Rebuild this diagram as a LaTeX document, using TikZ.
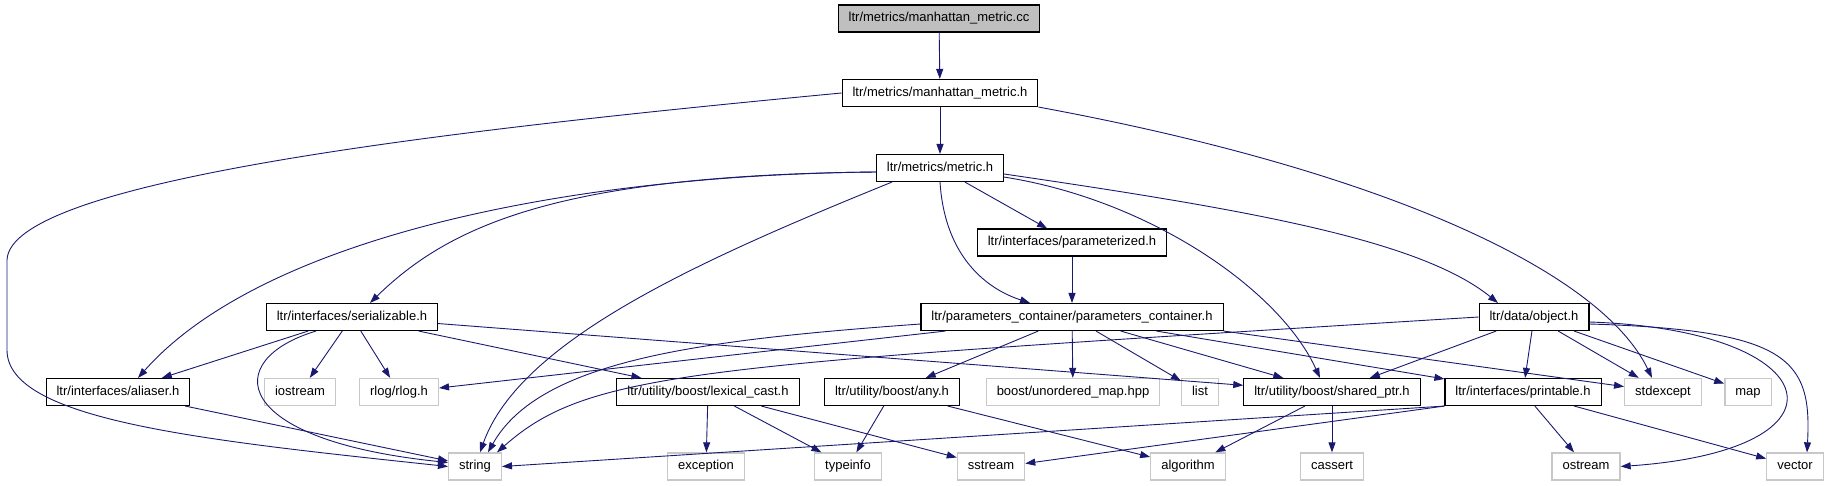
\documentclass[tikz,border=0pt]{standalone}
\usepackage{fontspec}
\setmainfont{Liberation Sans}
\usepackage{tikz}
\usetikzlibrary{arrows.meta, calc}
\definecolor{edgeblue}{RGB}{25,25,112}
\definecolor{rootgray}{RGB}{191,191,191}
\definecolor{sysgray}{RGB}{200,200,200}

\begin{document}
\begin{tikzpicture}[
    x=1pt, y=-1pt,
    box/.style={rectangle, draw=black, fill=white, line width=1.1pt, minimum height=27pt, inner xsep=10.5pt, inner ysep=0pt, text height=9.5pt, text depth=2.8pt, font=\fontsize{13}{15}\selectfont},
    rootbox/.style={box, fill=rootgray},
    sysbox/.style={box, draw=sysgray, line width=1.3pt},
    dep/.style={draw=edgeblue, line width=0.9pt, -{Triangle[length=10pt, width=7pt]}}
]
\useasboundingbox (0,0) rectangle (1829,485);

\node[rootbox] (cc) at (939,18.5) {ltr/metrics/manhattan\_metric.cc};
\node[box] (mmh) at (940,93) {ltr/metrics/manhattan\_metric.h};
\node[box] (metric) at (940,168) {ltr/metrics/metric.h};
\node[box] (parameterized) at (1072,242.5) {ltr/interfaces/parameterized.h};

\node[box] (serializable) at (352,317) {ltr/interfaces/serializable.h};
\node[box] (paramcont) at (1072,317) {ltr/parameters\_container/parameters\_container.h};
\node[box] (object) at (1534,317) {ltr/data/object.h};

\node[box] (aliaser) at (118,392) {ltr/interfaces/aliaser.h};
\node[sysbox] (iostream) at (300,392) {iostream};
\node[sysbox] (rlog) at (399,392) {rlog/rlog.h};
\node[box] (lexcast) at (708,392) {ltr/utility/boost/lexical\_cast.h};
\node[box] (any) at (892,392) {ltr/utility/boost/any.h};
\node[sysbox] (unordered) at (1073,392) {boost/unordered\_map.hpp};
\node[sysbox] (list) at (1200,392) {list};
\node[box] (sharedptr) at (1332,392) {ltr/utility/boost/shared\_ptr.h};
\node[box] (printable) at (1523,392) {ltr/interfaces/printable.h};
\node[sysbox] (stdexcept) at (1663,392) {stdexcept};
\node[sysbox] (map) at (1748,392) {map};

\node[sysbox] (string) at (475,466.5) {string};
\node[sysbox] (exception) at (706,466.5) {exception};
\node[sysbox] (typeinfo) at (848,466.5) {typeinfo};
\node[sysbox] (sstream) at (991,466.5) {sstream};
\node[sysbox] (algorithm) at (1188,466.5) {algorithm};
\node[sysbox] (cassert) at (1332,466.5) {cassert};
\node[sysbox] (ostream) at (1586,466.5) {ostream};
\node[sysbox] (vector) at (1795,466.5) {vector};

\draw[dep] (cc) -- (mmh);
\draw[dep] (mmh) -- (metric);
\draw[dep] (mmh.west) .. controls (450,130) and (10,180) .. (7,260) -- (7,350) .. controls (7,420) and (200,440) .. (string.west);
\draw[dep] (mmh.south east) .. controls (1380,170) and (1600,270) .. ($(stdexcept.north)+(-11,0)$);

\draw[dep] ($(metric.west)+(0,4)$) .. controls (560,175) and (260,240) .. ($(aliaser.north)+(20,0)$);
\draw[dep] ($(metric.west)+(0,4)$) .. controls (560,175) and (450,225) .. ($(serializable.north)+(18,0)$);
\draw[dep] ($(metric.south)+(-48,0)$) .. controls (700,260) and (520,340) .. ($(string.north)+(5,0)$);
\draw[dep] (metric) -- (parameterized);
\draw[dep] (metric.south) .. controls (945,260) and (990,290) .. ($(paramcont.north)+(-42,0)$);
\draw[dep] ($(metric.south east)+(0,-5)$) .. controls (1150,200) and (1280,290) .. ($(sharedptr.north)+(-12,0)$);
\draw[dep] ($(metric.east)+(0,6)$) .. controls (1250,210) and (1420,240) .. ($(object.north)+(-36,0)$);
\draw[dep] (parameterized) -- (paramcont);

\draw[dep] (serializable) -- (aliaser);
\draw[dep] ($(serializable.south)+(-36,0)$) .. controls (220,360) and (230,440) .. ($(string.west)+(0,-4)$);
\draw[dep] (serializable) -- (iostream);
\draw[dep] (serializable) -- (rlog);
\draw[dep] (serializable) -- (lexcast);
\draw[dep] (serializable) -- (sharedptr);
\draw[dep] (aliaser) -- (string);

\draw[dep] ($(paramcont.west)+(0,7)$) .. controls (700,340) and (540,360) .. ($(string.north)+(13,0)$);
\draw[dep] ($(paramcont.south west)+(25,0)$) -- ($(rlog.east)+(0,-4)$);
\draw[dep] (paramcont) -- (any);
\draw[dep] (paramcont) -- (unordered);
\draw[dep] (paramcont) -- (list);
\draw[dep] (paramcont) -- (sharedptr);
\draw[dep] (paramcont) -- (printable);
\draw[dep] (paramcont.south east) -- (stdexcept);

\draw[dep] (object.west) .. controls (700,365) and (590,370) .. ($(string.north)+(22,0)$);
\draw[dep] (object) -- (sharedptr);
\draw[dep] (object) -- (printable);
\draw[dep] (object) -- (stdexcept);
\draw[dep] (object) -- (map);
\draw[dep] ($(object.east)+(0,5)$) .. controls (1830,330) and (1860,450) .. (ostream.east);
\draw[dep] ($(object.east)+(0,7)$) .. controls (1790,330) and (1812,360) .. ($(vector.north)+(12,0)$);

\draw[dep] (lexcast) -- (exception);
\draw[dep] (lexcast) -- (typeinfo);
\draw[dep] (lexcast) -- (sstream);
\draw[dep] (any) -- (typeinfo);
\draw[dep] (any) -- (algorithm);
\draw[dep] (sharedptr) -- (algorithm);
\draw[dep] (sharedptr) -- (cassert);
\draw[dep] (printable.south west) -- (string.east);
\draw[dep] (printable.south west) -- ($(sstream.east)+(0,-3)$);
\draw[dep] (printable) -- (ostream);
\draw[dep] (printable) -- (vector);
\end{tikzpicture}
\end{document}
